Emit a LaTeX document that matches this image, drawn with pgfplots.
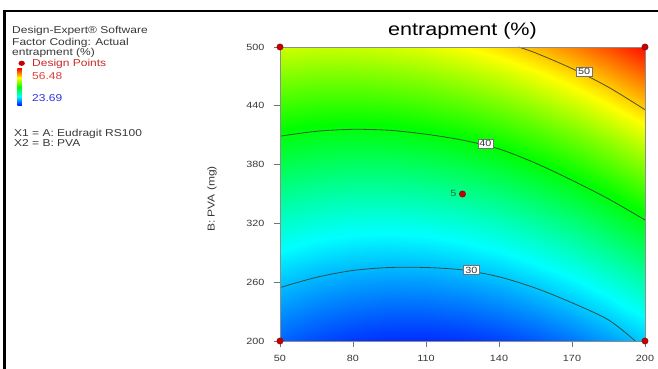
\documentclass[border=0pt]{standalone}
\usepackage{pgfplots}
\pgfplotsset{compat=1.18}
\usepackage{fontspec}
\setmainfont{Liberation Sans}[FakeStretch=1.2]
\definecolor{dpred}{RGB}{195,0,0}
\definecolor{ctr}{RGB}{50,60,40}
\definecolor{txt}{RGB}{55,55,55}
\begin{document}
\begin{tikzpicture}
\useasboundingbox (-280pt,-28pt) rectangle (378pt,341pt);
\draw[line width=2.2pt] (-275.5pt,-30pt) -- (-275.5pt,329.7pt) -- (380pt,329.7pt);
\begin{axis}[
  at={(0pt,0pt)}, anchor=south west,
  scale only axis, width=365pt, height=294pt,
  view={0}{90},
  xmin=50, xmax=200, ymin=200, ymax=500,
  xtick={50,80,110,140,170,200},
  ytick={200,260,320,380,440,500},
  ztick=\empty,
  tick align=outside, major tick length=6pt,
  xtick pos=left, ytick pos=left,
  tick style={black!55, line width=0.6pt},
  axis line style={black!45, line width=0.5pt},
  /pgf/number format/assume math mode=true,
  tick label style={font=\fontsize{9}{10}\selectfont, text=txt},
  xticklabel style={yshift=-5pt},
  yticklabel style={xshift=-6pt},
  title={entrapment (\%)},
  title style={font=\fontsize{18}{18}\selectfont, at={(axis description cs:0.5,1)}, anchor=base, yshift=5pt},
  ylabel={B: PVA (mg)},
  ylabel style={font=\fontsize{10}{10}\selectfont, text=txt, at={(axis description cs:-0.186,0.483)}, anchor=center},
  colormap={dexp}{rgb255=(0,0,255) rgb255=(0,255,255) rgb255=(0,255,0) rgb255=(255,255,0) rgb255=(255,0,0)},
  point meta min=23.69, point meta max=56.48,
  clip=false,
  axis on top,
]
\addplot3[surf, shader=interp, mesh/cols=11, point meta=\thisrow{z}] table {
x y z
50 200 26.89
65 200 26.07
80 200 25.50
95 200 25.18
110 200 25.13
125 200 25.33
140 200 25.78
155 200 26.49
170 200 27.46
185 200 28.68
200 200 30.16
50 230 28.41
65 230 27.64
80 230 27.13
95 230 26.88
110 230 26.89
125 230 27.15
140 230 27.66
155 230 28.43
170 230 29.46
185 230 30.74
200 230 32.28
50 260 30.03
65 260 29.32
80 260 28.88
95 260 28.68
110 260 28.75
125 260 29.07
140 260 29.65
155 260 30.48
170 260 31.57
185 260 32.91
200 260 34.51
50 290 31.75
65 290 31.11
80 290 30.72
95 290 30.59
110 290 30.72
125 290 31.10
140 290 31.74
155 290 32.63
170 290 33.78
185 290 35.18
200 290 36.85
50 320 33.58
65 320 33.00
80 320 32.67
95 320 32.60
110 320 32.79
125 320 33.23
140 320 33.93
155 320 34.88
170 320 36.10
185 320 37.56
200 320 39.28
50 350 35.51
65 350 34.99
80 350 34.73
95 350 34.72
110 350 34.97
125 350 35.47
140 350 36.23
155 350 37.25
170 350 38.52
185 350 40.04
200 350 41.83
50 380 37.55
65 380 37.09
80 380 36.89
95 380 36.94
110 380 37.25
125 380 37.81
140 380 38.63
155 380 39.71
170 380 41.04
185 380 42.63
200 380 44.47
50 410 39.70
65 410 39.30
80 410 39.15
95 410 39.27
110 410 39.64
125 410 40.26
140 410 41.14
155 410 42.28
170 410 43.67
185 410 45.32
200 410 47.23
50 440 41.95
65 440 41.61
80 440 41.53
95 440 41.70
110 440 42.13
125 440 42.82
140 440 43.76
155 440 44.96
170 440 46.41
185 440 48.12
200 440 50.09
50 470 44.30
65 470 44.02
80 470 44.00
95 470 44.24
110 470 44.73
125 470 45.47
140 470 46.48
155 470 47.74
170 470 49.25
185 470 51.02
200 470 53.05
50 500 46.76
65 500 46.54
80 500 46.58
95 500 46.88
110 500 47.43
125 500 48.24
140 500 49.30
155 500 50.62
170 500 52.20
185 500 54.03
200 500 56.12
};
% contour lines
\addplot3[ctr, line width=0.8pt, smooth, opacity=0.85] coordinates {
(50,254.5,57) (65,265,57) (80,272,57) (95,275,57) (110,275,57) (125,272.5,57) (140,265.5,57) (155,254,57) (170,239,57) (185,221.5,57) (196,200,57)};
\addplot3[ctr, line width=0.8pt, smooth, opacity=0.85] coordinates {
(50,409,57) (65,414,57) (80,416,57) (95,415,57) (110,411,57) (125,405,57) (140,396,57) (155,381.5,57) (170,364,57) (185,345,57) (200,323.5,57)};
\addplot3[ctr, line width=0.8pt, smooth, opacity=0.85] coordinates {
(148,500,57) (155,494,57) (170,478,57) (185,459,57) (200,436,57)};
\node[fill=white, draw=black!55, line width=0.4pt, inner xsep=1.6pt, inner ysep=1.2pt, font=\fontsize{9}{9}\selectfont, text=txt] at (axis cs:128.6,272.4,57) {30};
\node[fill=white, draw=black!55, line width=0.4pt, inner xsep=1.6pt, inner ysep=1.2pt, font=\fontsize{9}{9}\selectfont, text=txt] at (axis cs:134.4,401.5,57) {40};
\node[fill=white, draw=black!55, line width=0.4pt, inner xsep=1.6pt, inner ysep=1.2pt, font=\fontsize{9}{9}\selectfont, text=txt] at (axis cs:175,474.8,57) {50};
% design points
\addplot3[only marks, mark=*, mark size=3.2pt, color=dpred, mark options={draw=dpred!70!black}] coordinates {
(50,200,57) (50,500,57) (200,200,57) (200,500,57) (125,350,57)};
\node[font=\fontsize{9}{9}\selectfont, text={rgb,255:red,20;green,110;blue,70}] at (axis cs:125,350,57) [xshift=-9pt, yshift=1pt] {5};
\end{axis}
% left legend text
\begin{scope}[font=\fontsize{10}{10}\selectfont]
\node[anchor=base west, inner sep=0pt, text=txt] at (-268pt,307pt) {Design-Expert® Software};
\node[anchor=base west, inner sep=0pt, text=txt] at (-268pt,295.5pt) {Factor Coding: Actual};
\node[anchor=base west, inner sep=0pt, text=txt] at (-268pt,285pt) {entrapment (\%)};
\fill[dpred] (-258.3pt,277.7pt) ellipse (3.2pt and 2.6pt);
\node[anchor=base west, inner sep=0pt, text={rgb,255:red,200;green,40;blue,40}] at (-248pt,274pt) {Design Points};
\shade[bottom color=blue, top color=cyan] (-262.7pt,235pt) rectangle (-258.2pt,244.5pt);
\shade[bottom color=cyan, top color=green] (-262.7pt,244.4pt) rectangle (-258.2pt,253.9pt);
\shade[bottom color=green, top color=yellow] (-262.7pt,253.8pt) rectangle (-258.2pt,263.3pt);
\shade[bottom color=yellow, top color=red] (-262.7pt,263.2pt) rectangle (-258.2pt,272.7pt);
\node[anchor=base west, inner sep=0pt, text={rgb,255:red,225;green,60;blue,60}] at (-248pt,261pt) {56.48};
\node[anchor=base west, inner sep=0pt, text={rgb,255:red,50;green,50;blue,220}] at (-248pt,239.3pt) {23.69};
\node[anchor=base west, inner sep=0pt, text=txt] at (-266pt,204pt) {X1 = A: Eudragit RS100};
\node[anchor=base west, inner sep=0pt, text=txt] at (-266pt,194.3pt) {X2 = B: PVA};
\end{scope}
\end{tikzpicture}
\end{document}
